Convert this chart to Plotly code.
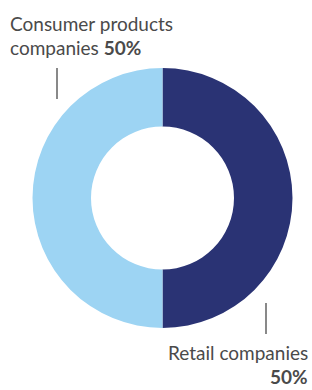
import plotly.graph_objects as go

categories = ["Retail companies", "Consumer products companies"]
values = [50, 50]
colors = ["#2A3374", "#9DD4F3"]
label_texts = ["Retail companies", "Consumer products", "companies"]

W, H = 312, 390

def px(x):
    return x / W

def py(y):
    return 1 - y / H

cx, cy, r = 162.5, 198, 130

fig = go.Figure(go.Pie(
    labels=categories,
    values=values,
    sort=False,
    direction="clockwise",
    rotation=0,
    hole=0.55,
    marker=dict(colors=colors, line=dict(width=0)),
    textinfo="none",
    hoverinfo="skip",
    showlegend=False,
    domain=dict(x=[px(cx - r), px(cx + r)],
                y=[py(cy + r), py(cy - r)]),
))

font = dict(family="Lato", size=19, color="#4a4a4a")

anns = [
    dict(x=px(8), y=py(23), text=label_texts[1], xanchor="left", yanchor="middle"),
    dict(x=px(8), y=py(47), text=f"{label_texts[2]} <b>{values[1]}%</b>", xanchor="left", yanchor="middle"),
    dict(x=px(309), y=py(352), text=label_texts[0], xanchor="right", yanchor="middle", borderpad=0),
    dict(x=px(309), y=py(376), text=f"<b>{values[0]}%</b>", xanchor="right", yanchor="middle", borderpad=0),
]
for a in anns:
    a.update(xref="paper", yref="paper", showarrow=False, font=font)

shapes = [
    dict(type="line", xref="paper", yref="paper", x0=px(57), x1=px(57), y0=py(68), y1=py(99),
         line=dict(color="#4a4a4a", width=1.3)),
    dict(type="line", xref="paper", yref="paper", x0=px(266), x1=px(266), y0=py(303), y1=py(334),
         line=dict(color="#4a4a4a", width=1.3)),
]

fig.update_layout(
    width=W, height=H,
    margin=dict(l=0, r=0, t=0, b=0),
    paper_bgcolor="white",
    plot_bgcolor="white",
    annotations=anns,
    shapes=shapes,
)

fig.write_html(
    "out.html",
    config={"displayModeBar": False},
    post_script="document.body.style.margin='0';document.body.style.overflow='hidden';",
)
